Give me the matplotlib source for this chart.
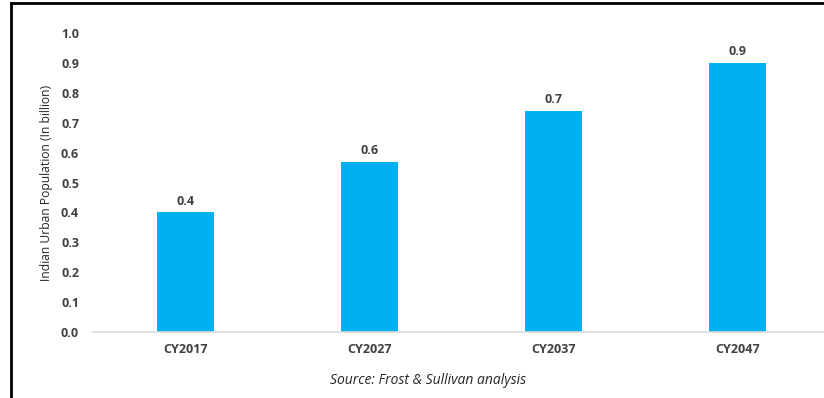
import matplotlib.pyplot as plt
from matplotlib.lines import Line2D

years = ["CY2017", "CY2027", "CY2037", "CY2047"]
population = [0.40, 0.57, 0.74, 0.90]
yticks = [0.0, 0.1, 0.2, 0.3, 0.4, 0.5, 0.6, 0.7, 0.8, 0.9, 1.0]

W, H = 824, 398
plt.rcParams['font.family'] = ['Open Sans', 'DejaVu Sans']
fig = plt.figure(figsize=(W / 100, H / 100), dpi=100)
ax = fig.add_axes([93 / W, 1 - 332 / H, (W - 93) / W, (332 - 33) / H])

x = range(len(years))
bars = ax.bar(x, population, width=0.31, color="#00B0F0", zorder=2)
for b, v in zip(bars, population):
    ax.text(b.get_x() + b.get_width() / 2, v + 0.015, f"{v:.1f}",
            ha="center", va="bottom", fontsize=9, fontweight="bold", color="#404040")

ax.set_xlim(-0.5, 3.47)
ax.set_ylim(0, 1.0)
ax.set_xticks(list(x))
ax.set_xticklabels(years)
ax.set_yticks(yticks)
ax.set_yticklabels([f"{t:.1f}" for t in yticks])
ax.tick_params(length=0, labelsize=9, colors="#404040", pad=8)
for lab in ax.get_xticklabels() + ax.get_yticklabels():
    lab.set_fontweight("bold")
ax.tick_params(axis="y", pad=10)

for s in ["top", "right", "left"]:
    ax.spines[s].set_visible(False)
ax.spines["bottom"].set_color("#D9D9D9")
ax.spines["bottom"].set_linewidth(1.2)

fig.text(47 / W, 1 - 183 / H, "Indian Urban Population (In billion)", rotation=90,
         ha="center", va="center", fontsize=8.7, color="#262626")
fig.text(428 / W, 1 - 381 / H, "Source: Frost & Sullivan analysis",
         ha="center", va="center", fontsize=10, style="italic", color="#262626")

# outer frame on the left and top
fig.add_artist(Line2D([10.5 / W, 10.5 / W], [0, 1 - 3 / H], color="black", lw=2))
fig.add_artist(Line2D([10.5 / W, 1], [1 - 3 / H, 1 - 3 / H], color="black", lw=2))

fig.savefig("out.png", dpi=100)
